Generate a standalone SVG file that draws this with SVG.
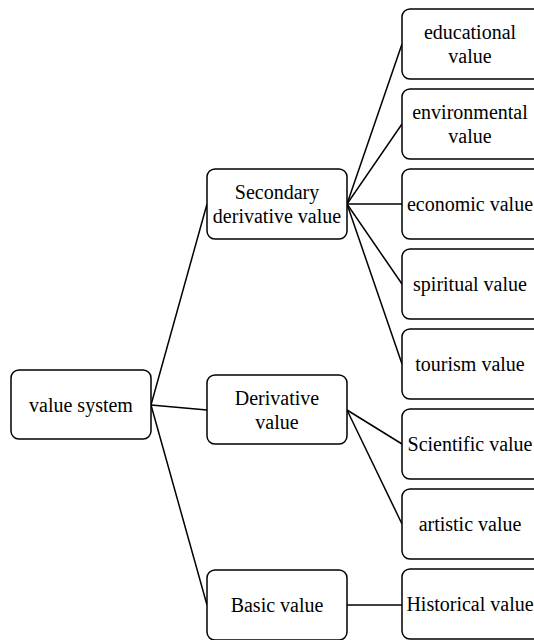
<svg xmlns="http://www.w3.org/2000/svg" width="534" height="640" viewBox="0 0 534 640">
<style>
.box{fill:#fff;stroke:#000;stroke-width:1.5}
.t{font-family:"Liberation Serif","Times New Roman",serif;font-size:20px;fill:#000;text-anchor:middle}
.c{stroke:#000;stroke-width:1.5;fill:none}
</style>
<rect width="534" height="640" fill="#fff"/>
<g id="connectors">
<line class="c" x1="151" y1="405" x2="207" y2="204"/>
<line class="c" x1="151" y1="405" x2="207" y2="410"/>
<line class="c" x1="151" y1="405" x2="207" y2="605"/>
<line class="c" x1="347" y1="204" x2="402" y2="44"/>
<line class="c" x1="347" y1="204" x2="402" y2="124"/>
<line class="c" x1="347" y1="204" x2="402" y2="204"/>
<line class="c" x1="347" y1="204" x2="402" y2="284"/>
<line class="c" x1="347" y1="204" x2="402" y2="364"/>
<line class="c" x1="347" y1="410" x2="402" y2="444"/>
<line class="c" x1="347" y1="410" x2="402" y2="524"/>
<line class="c" x1="347" y1="605" x2="402" y2="605"/>
</g>
<g id="root"><rect class="box" x="11" y="370" width="140" height="69" rx="8"/><text class="t" x="81" y="412">value system</text></g>
<g id="secondary"><rect class="box" x="207" y="169" width="140" height="70" rx="8"/><text class="t" x="277" y="199">Secondary</text><text class="t" x="277" y="223">derivative value</text></g>
<g id="derivative"><rect class="box" x="207" y="375" width="140" height="69" rx="8"/><text class="t" x="277" y="405">Derivative</text><text class="t" x="277" y="429">value</text></g>
<g id="basic"><rect class="box" x="207" y="570" width="140" height="70" rx="8"/><text class="t" x="277" y="612">Basic value</text></g>
<g id="educational"><rect class="box" x="402" y="9" width="140" height="70" rx="8"/><text class="t" x="470" y="39">educational</text><text class="t" x="470" y="63">value</text></g>
<g id="environmental"><rect class="box" x="402" y="89" width="140" height="70" rx="8"/><text class="t" x="470" y="119">environmental</text><text class="t" x="470" y="143">value</text></g>
<g id="economic"><rect class="box" x="402" y="169" width="140" height="70" rx="8"/><text class="t" x="470" y="211">economic value</text></g>
<g id="spiritual"><rect class="box" x="402" y="249" width="140" height="70" rx="8"/><text class="t" x="470" y="291">spiritual value</text></g>
<g id="tourism"><rect class="box" x="402" y="329" width="140" height="70" rx="8"/><text class="t" x="470" y="371">tourism value</text></g>
<g id="scientific"><rect class="box" x="402" y="409" width="140" height="70" rx="8"/><text class="t" x="470" y="451">Scientific value</text></g>
<g id="artistic"><rect class="box" x="402" y="489" width="140" height="70" rx="8"/><text class="t" x="470" y="531">artistic value</text></g>
<g id="historical"><rect class="box" x="402" y="569" width="140" height="70" rx="8"/><text class="t" x="470" y="611">Historical value</text></g>
</svg>
